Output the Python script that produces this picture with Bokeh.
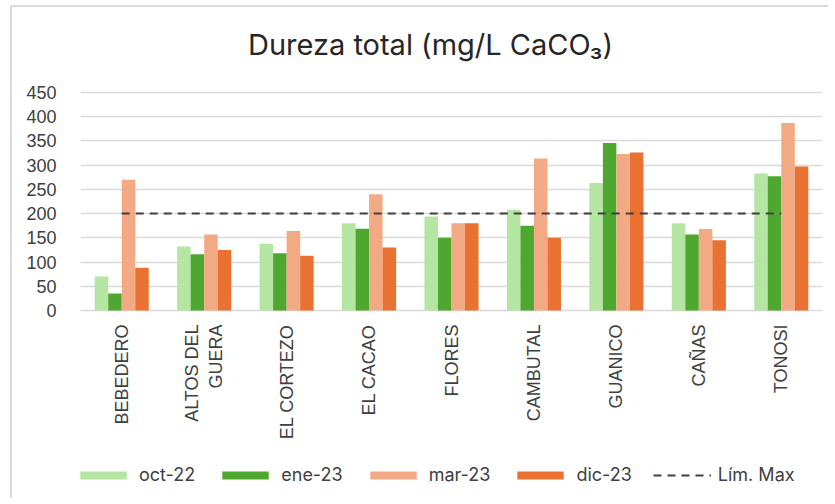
from bokeh.plotting import figure
from bokeh.models import FactorRange, Range1d, FixedTicker, Legend, LegendItem, Label, ColumnDataSource
from bokeh.core.properties import value
from bokeh.transform import dodge
from bokeh.embed import file_html
from bokeh.resources import INLINE
import math

categories = ["BEBEDERO", "ALTOS DEL\nGUERA", "EL CORTEZO", "EL CACAO", "FLORES",
              "CAMBUTAL", "GUANICO", "CAÑAS", "TONOSI"]
series_names = ["oct-22", "ene-23", "mar-23", "dic-23"]
oct_22 = [70, 132, 138, 180, 194, 208, 263, 180, 283]
ene_23 = [35, 116, 118, 169, 150, 175, 346, 157, 277]
mar_23 = [270, 157, 164, 240, 180, 314, 323, 168, 387]
dic_23 = [88, 125, 113, 130, 180, 150, 326, 145, 297]
lim_max = [200, 200, 200, 200, 200, 200, 200, 200, 200]
y_ticks = [0, 50, 100, 150, 200, 250, 300, 350, 400, 450]
colors = ["#B4E5A2", "#4EA72E", "#F2AA84", "#E97132"]
title_text = "Dureza total (mg/L CaCO₃)"

# layout geometry (page pixels)
canvas_top, canvas_left = 7, 12
plot_top, plot_bottom = 92, 310
canvas_bottom = 500
ppu = (plot_bottom - plot_top) / 450.0
y_end = 450 + (plot_top - canvas_top) / ppu
y_start = -(canvas_bottom - plot_bottom) / ppu

src = ColumnDataSource(dict(cat=categories, s0=oct_22, s1=ene_23, s2=mar_23, s3=dic_23, lim=lim_max))

p = figure(width=818, height=canvas_bottom - canvas_top,
           x_range=FactorRange(*categories, range_padding=0),
           y_range=Range1d(y_start, y_end), output_backend="svg", toolbar_location=None,
           min_border_left=80 - canvas_left, min_border_right=8, min_border_top=0, min_border_bottom=0)
p.styles = {"border-left": "2px solid #d9d9d9", "border-top": "2px solid #d9d9d9",
            "margin-left": "10px", "margin-top": "5px"}
p.outline_line_color = None
p.xgrid.grid_line_color = None
p.ygrid.grid_line_color = "#d9d9d9"
p.ygrid.grid_line_width = 1.3
p.ygrid.ticker = FixedTicker(ticks=y_ticks)
p.yaxis.ticker = FixedTicker(ticks=y_ticks)
p.yaxis.axis_line_color = None
p.yaxis.major_tick_line_color = None
p.yaxis.minor_tick_line_color = None
p.yaxis.major_label_standoff = 18
p.yaxis.major_label_text_font = "Liberation Sans"
p.yaxis.major_label_text_font_size = "18px"
p.yaxis.major_label_text_color = "#404040"
p.xaxis.visible = False

bw = 0.164
offsets = [-1.5 * bw, -0.5 * bw, 0.5 * bw, 1.5 * bw]
renderers = []
for i, (col, off) in enumerate(zip(["s0", "s1", "s2", "s3"], offsets)):
    r = p.vbar(x=dodge("cat", off, range=p.x_range), top=col, width=bw, source=src,
               fill_color=colors[i], line_color=None)
    renderers.append(r)
lr = p.line(x="cat", y="lim", source=src, line_color="#404040", line_width=2, line_dash="8 6")

# category labels under the zero line
label_y = -14 / ppu
lab_src = ColumnDataSource(dict(cat=categories, ly=[label_y] * len(categories)))
p.text(x="cat", y="ly", text="cat", source=lab_src, angle=math.pi / 2,
       text_align="right", text_baseline="middle", text_font=value("Liberation Sans"),
       text_font_size="18px", text_color="#404040")

items = [LegendItem(label=n, renderers=[r]) for n, r in zip(series_names, renderers)]
items.append(LegendItem(label="Lím. Max", renderers=[lr]))
legend = Legend(items=items, orientation="horizontal", location=(-6, 15),
                glyph_width=58, glyph_height=10, label_standoff=7, spacing=21,
                padding=0, margin=0, border_line_color=None, background_fill_alpha=0,
                label_text_font="Inter", label_text_font_size="18px", label_text_color="#404040")
p.add_layout(legend, "center")

title = Label(x=(430 - 80) / ((822 - 80) / 9.0), y=450 + (plot_top - 44) / ppu,
              text=title_text, text_align="center", text_baseline="middle",
              text_font="Inter", text_font_size="29px", text_color="#262626")
p.add_layout(title)

open("out.html", "w").write(file_html(p, INLINE))
